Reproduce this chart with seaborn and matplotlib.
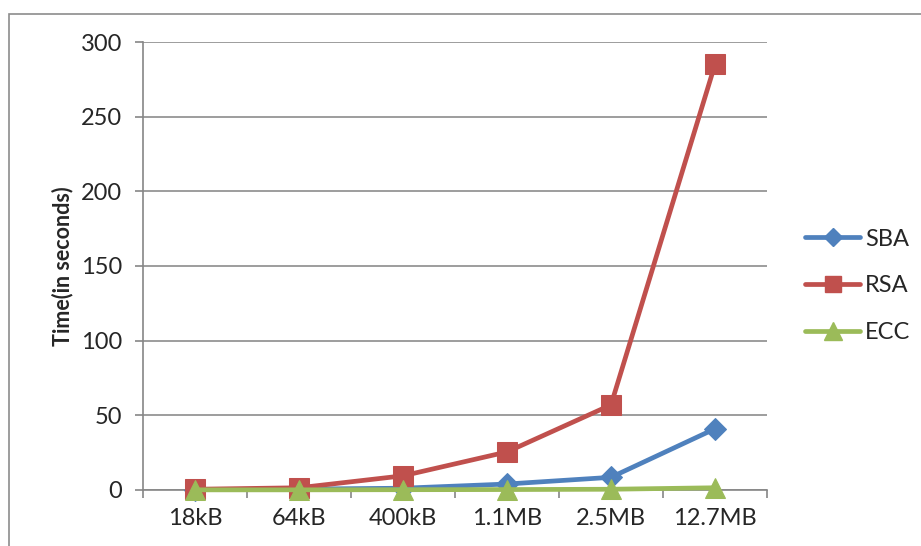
import matplotlib
matplotlib.use("Agg")
import matplotlib.pyplot as plt
from matplotlib.lines import Line2D
from matplotlib.patches import Rectangle
import seaborn as sns
import pandas as pd

sizes = ["18kB", "64kB", "400kB", "1.1MB", "2.5MB", "12.7MB"]
sba = [0.3, 0.6, 1.2, 4.0, 8.5, 41.0]
rsa = [0.5, 1.5, 9.5, 25.5, 57.0, 285.0]
ecc = [0.1, 0.1, 0.2, 0.3, 0.5, 1.5]
series = ["SBA", "RSA", "ECC"]
y_ticks = [0, 50, 100, 150, 200, 250, 300]

colors = {"SBA": "#4F81BD", "RSA": "#C0504D", "ECC": "#9BBB59"}
markers = {"SBA": "D", "RSA": "s", "ECC": "^"}
msizes = {"SBA": 11, "RSA": 14, "ECC": 15}

df = pd.DataFrame({
    "size": sizes * 3,
    "pos": list(range(len(sizes))) * 3,
    "time": sba + rsa + ecc,
    "alg": ["SBA"] * 6 + ["RSA"] * 6 + ["ECC"] * 6,
})

sns.set_theme(style="white")
plt.rcParams["font.family"] = ["Lato", "DejaVu Sans"]

fig = plt.figure(figsize=(9.21, 5.46), dpi=100)
ax = fig.add_axes([143 / 921, 56 / 546, 624 / 921, 448 / 546])

# outer chart frame
fig.patches.append(Rectangle((8.5 / 921, -0.1), 1.1, (546 - 13.5) / 546 + 0.1,
                             transform=fig.transFigure, fill=False,
                             edgecolor="#8C8C8C", linewidth=1.2, zorder=0))

for z, name in enumerate(series):
    sub = df[df["alg"] == name]
    sns.lineplot(data=sub, x="pos", y="time", ax=ax, color=colors[name],
                 marker=markers[name], markersize=msizes[name],
                 markeredgecolor=colors[name], linewidth=3.4,
                 zorder=3 + z, legend=False, clip_on=False)

ax.set_xlim(-0.5, len(sizes) - 0.5)
ax.set_ylim(0, 300)
ax.set_yticks(y_ticks)
ax.set_yticklabels([str(v) for v in y_ticks], fontsize=17)
ax.set_xticks(range(len(sizes)))
ax.set_xticklabels(sizes, fontsize=17)
ax.tick_params(axis="x", length=0, pad=13)
ax.tick_params(axis="y", length=6, direction="out", color="#868686", width=1.2, pad=9, left=True)
# boundary ticks between categories
ax.set_xticks([i - 0.5 for i in range(len(sizes) + 1)], minor=True)
ax.tick_params(axis="x", which="minor", length=6, direction="out", color="#868686", width=1.2, bottom=True)

ax.grid(axis="y", color="#8C8C8C", linewidth=1.2)
ax.set_axisbelow(True)
for side in ["top", "right"]:
    ax.spines[side].set_visible(False)
for side in ["left", "bottom"]:
    ax.spines[side].set_color("#868686")
    ax.spines[side].set_linewidth(1.2)

ax.set_xlabel("")
ax.set_ylabel("Time(in seconds)", fontsize=15.5, fontweight="bold", labelpad=5)

handles = [Line2D([0], [0], color=colors[n], marker=markers[n],
                  markersize=msizes[n] - 2, linewidth=3.4, markeredgecolor=colors[n])
           for n in series]
fig.legend(handles, series, loc="center left", bbox_to_anchor=(805 / 921, 1 - 286 / 546),
           frameon=False, fontsize=17, handlelength=2.35, labelspacing=1.1,
           handletextpad=0.2, borderaxespad=0, borderpad=0)

fig.savefig("out.png", dpi=100)
